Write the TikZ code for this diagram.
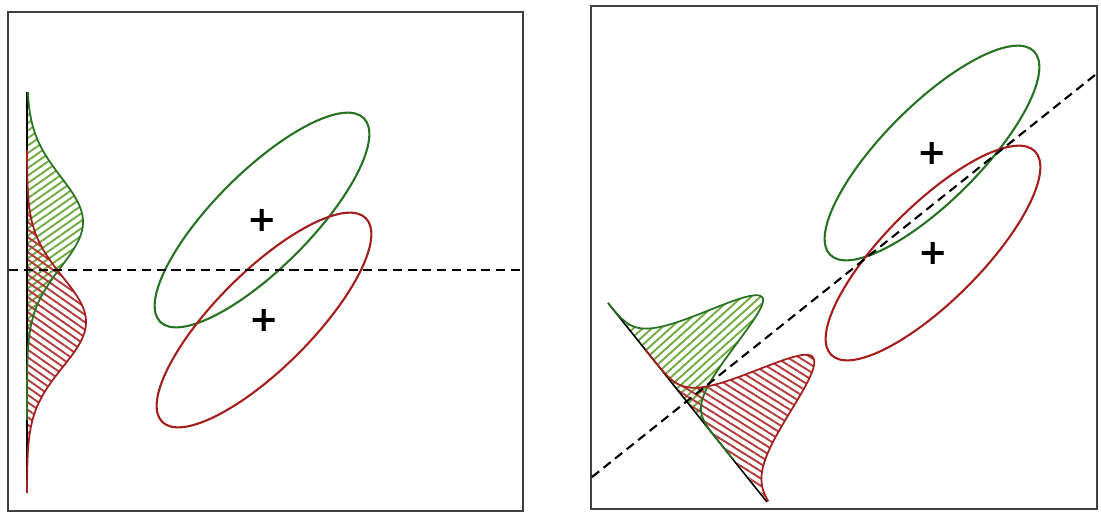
\documentclass[tikz,border=0pt]{standalone}
\usepackage{fontspec}
\usepackage{tikz}
\usetikzlibrary{patterns.meta}

\newfontfamily\plusfont{DejaVu Sans}
\definecolor{ggreen}{RGB}{40,115,35}
\definecolor{rred}{RGB}{165,30,30}
\definecolor{ghatchc}{RGB}{115,170,65}
\definecolor{rhatchc}{RGB}{180,60,60}

\begin{document}
\begin{tikzpicture}[x=0.1mm, y=-0.1mm,
    frame/.style={draw=black!75, line width=0.65pt},
    boundary/.style={draw=black, dash pattern=on 2.6pt off 1.6pt, line width=0.6pt},
    axisline/.style={draw=black, line width=0.45pt},
    gring/.style={draw=ggreen, line width=0.6pt},
    rring/.style={draw=rred, line width=0.6pt},
    gcurve/.style={draw=ggreen, line width=0.5pt},
    rcurve/.style={draw=rred, line width=0.5pt},
    plus/.style={inner sep=0pt, font=\plusfont\bfseries\fontsize{10}{10}\selectfont}]

    \useasboundingbox (0,0) rectangle (1101,518);

    % Frames
    \draw[frame] (8,12) rectangle (523,511);
    \draw[frame] (591,6) rectangle (1097,509);

    % Class centres
    \coordinate (gL) at (262,220);
    \coordinate (rL) at (264,320);
    \coordinate (gR) at (932,153);
    \coordinate (rR) at (933,253);

    % Left: projection on the vertical axis
    \fill[pattern={Lines[angle=35, distance=1.75pt, line width=0.55pt]}, pattern color=ghatchc]
        (27,92) -- plot[domain=92:420, samples=150] ({27+56*exp(-0.5*((\x-222)/45)^2)}, \x) -- (27,420) -- cycle;
    \fill[pattern={Lines[angle=-35, distance=1.75pt, line width=0.55pt]}, pattern color=rhatchc]
        (27,150) -- plot[domain=150:493, samples=150] ({27+59*exp(-0.5*((\x-322)/45)^2)}, \x) -- (27,493) -- cycle;
    \coordinate (aL1) at (27,92);
    \coordinate (aL2) at (27,493);
    \draw[axisline] (aL1) -- (aL2);
    \draw[gcurve] plot[domain=92:420, samples=150] ({27+56*exp(-0.5*((\x-222)/45)^2)}, \x);
    \draw[rcurve] plot[domain=150:493, samples=150] ({27+59*exp(-0.5*((\x-322)/45)^2)}, \x);

    % Left: ellipses
    \draw[gring, rotate around={45:(gL)}] (gL) ellipse [x radius=144, y radius=48];
    \draw[rring, rotate around={45:(rL)}] (rL) ellipse [x radius=144, y radius=48];
    \node[plus] (pgL) at (gL) {+};
    \node[plus] (prL) at (rL) {+};

    \coordinate (bL1) at (9,270);
    \coordinate (bL2) at (522,270);
    \draw[boundary] (bL1) -- (bL2);

    % Right: projection on the slanted axis
    \fill[pattern={Lines[angle=42, distance=1.75pt, line width=0.55pt]}, pattern color=ghatchc]
        (608,303) -- plot[domain=0:200, samples=160]
        ({608+0.625*\x+0.781*124*exp(-0.5*((\x-92)/ifthenelse(\x<92,23,20))^2)},
         {303+0.781*\x-0.625*124*exp(-0.5*((\x-92)/ifthenelse(\x<92,23,20))^2)}) -- cycle;
    \fill[pattern={Lines[angle=-32, distance=1.75pt, line width=0.55pt]}, pattern color=rhatchc]
        plot[domain=60:255, samples=160]
        ({608+0.625*\x+0.781*126*exp(-0.5*((\x-170)/ifthenelse(\x<170,24,28))^2)},
         {303+0.781*\x-0.625*126*exp(-0.5*((\x-170)/ifthenelse(\x<170,24,28))^2)}) -- cycle;
    \coordinate (aR1) at (608,303);
    \coordinate (aR2) at (767,502);
    \draw[axisline] (aR1) -- (aR2);
    \draw[gcurve] plot[domain=0:200, samples=160]
        ({608+0.625*\x+0.781*124*exp(-0.5*((\x-92)/ifthenelse(\x<92,23,20))^2)},
         {303+0.781*\x-0.625*124*exp(-0.5*((\x-92)/ifthenelse(\x<92,23,20))^2)});
    \draw[rcurve] plot[domain=60:255, samples=160]
        ({608+0.625*\x+0.781*126*exp(-0.5*((\x-170)/ifthenelse(\x<170,24,28))^2)},
         {303+0.781*\x-0.625*126*exp(-0.5*((\x-170)/ifthenelse(\x<170,24,28))^2)});

    % Right: ellipses
    \draw[gring, rotate around={45:(gR)}] (gR) ellipse [x radius=144, y radius=48];
    \draw[rring, rotate around={45:(rR)}] (rR) ellipse [x radius=144, y radius=48];
    \node[plus] (pgR) at (gR) {+};
    \node[plus] (prR) at (rR) {+};

    \coordinate (bR1) at (592,477);
    \coordinate (bR2) at (1095,75);
    \draw[boundary] (bR1) -- (bR2);

\end{tikzpicture}
\end{document}
